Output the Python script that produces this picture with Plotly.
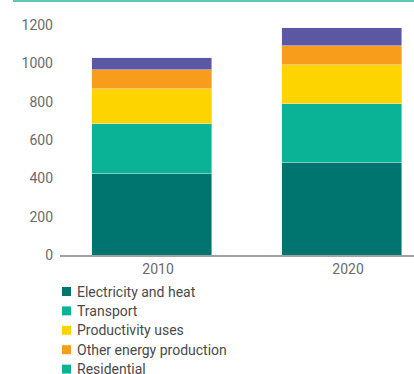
import plotly.graph_objects as go

years = ["2010", "2020"]
series_names = ["Electricity and heat", "Transport", "Productivity uses",
                "Other energy production", "Residential"]
electricity = [423, 481]
transport = [261, 308]
productivity = [183, 204]
other_energy = [100, 99]
residential = [62, 94]
series_values = [electricity, transport, productivity, other_energy, residential]
bar_colors = ["#00756f", "#0bb396", "#fdd300", "#f89c1c", "#5b57a2"]
legend_colors = ["#00756f", "#0bb396", "#fdd300", "#f89c1c", "#0bb396"]
y_ticks = [0, 200, 400, 600, 800, 1000, 1200]

FONT = "Roboto"
W, H = 414, 374
ML, MR, MT, MB = 60, 0, 6, 119
PW, PH = W - ML - MR, H - MT - MB

fig = go.Figure()
for name, vals, col in zip(series_names, series_values, bar_colors):
    fig.add_trace(go.Bar(x=years, y=vals, name=name, marker_color=col,
                         width=0.632, offset=-0.35, showlegend=False,
                         hoverinfo="y+name"))

def px_x(x):
    return (x - ML) / PW

def px_y(y):
    return (H - MB - y) / PH

shapes = [dict(type="line", xref="paper", yref="paper",
               x0=px_x(13), x1=px_x(414), y0=px_y(1), y1=px_y(1),
               line=dict(color="#2bb59c", width=1.5))]
annotations = []
row0, step = 291.5, 19.4
for i, (name, col) in enumerate(zip(series_names, legend_colors)):
    cy = row0 + i * step
    shapes.append(dict(type="rect", xref="paper", yref="paper",
                       x0=px_x(62), x1=px_x(71), y0=px_y(cy - 4.5), y1=px_y(cy + 4.5),
                       fillcolor=col, line=dict(width=0)))
    annotations.append(dict(xref="paper", yref="paper", x=px_x(75), y=px_y(cy),
                            xanchor="left", yanchor="middle", showarrow=False,
                            text=name, font=dict(family=FONT, size=14, color="#4a4a4a")))

fig.update_layout(
    barmode="stack",
    width=W, height=H,
    margin=dict(l=ML, r=MR, t=MT, b=MB, pad=0),
    paper_bgcolor="white", plot_bgcolor="white",
    font=dict(family=FONT, size=14, color="#6b6b6b"),
    shapes=shapes, annotations=annotations,
    xaxis=dict(type="category", range=[-0.516, 1.347], showgrid=False,
               showline=True, linecolor="#a0a0a0", linewidth=2,
               ticks="", tickfont=dict(family=FONT, size=14, color="#6b6b6b")),
    yaxis=dict(range=[0, 1300], tickvals=y_ticks, showgrid=False, zeroline=False,
               showline=False, ticks="", ticklabelstandoff=6,
               tickfont=dict(family=FONT, size=14, color="#6b6b6b")),
)

fig.write_html("out.html", config={"displayModeBar": False},
               post_script="document.body.style.margin='0';document.body.style.overflow='hidden';")
